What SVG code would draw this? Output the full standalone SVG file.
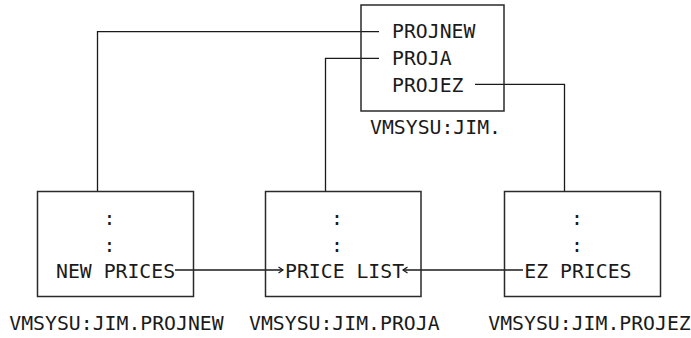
<svg xmlns="http://www.w3.org/2000/svg" width="691" height="338" viewBox="0 0 691 338">
<style>
.box{fill:none;stroke:#2a2a2a;stroke-width:1.5}
.ln{fill:none;stroke:#1a1a1a;stroke-width:1.3}
text{font-family:"DejaVu Sans Mono","Liberation Mono",monospace;font-size:19.8px;fill:#1a1a1a}
</style>
<defs>
<marker id="ah" markerWidth="8" markerHeight="8" refX="6" refY="4" orient="auto" markerUnits="userSpaceOnUse">
<path d="M1.5,1 L6,4 L1.5,7" fill="none" stroke="#1a1a1a" stroke-width="1.2"/>
</marker>
</defs>
<rect width="691" height="338" fill="#fff"/>
<g id="connectors">
<polyline class="ln" points="379,31.7 97.5,31.7 97.5,191.5"/>
<polyline class="ln" points="379,58.3 325.5,58.3 325.5,191.5"/>
<polyline class="ln" points="475,84.3 564.5,84.3 564.5,191.5"/>
<line class="ln" x1="175" y1="270" x2="283" y2="270" marker-end="url(#ah)"/>
<line class="ln" x1="523" y1="270" x2="403" y2="270" marker-end="url(#ah)"/>
</g>
<g id="top">
<rect class="box" x="361" y="5" width="143" height="106"/>
<text x="392" y="38.3">PROJNEW</text>
<text x="392" y="65">PROJA</text>
<text x="392" y="91.7">PROJEZ</text>
<text x="370" y="134">VMSYSU:JIM.</text>
</g>
<g id="newprices">
<rect class="box" x="37.5" y="191.5" width="156" height="105"/>
<text x="103.6" y="225">:</text>
<text x="103.6" y="251.7">:</text>
<text x="56" y="278.3">NEW PRICES</text>
<text x="9.3" y="330">VMSYSU:JIM.PROJNEW</text>
</g>
<g id="pricelist">
<rect class="box" x="265.5" y="191.5" width="155.5" height="105"/>
<text x="331" y="225">:</text>
<text x="331" y="251.7">:</text>
<text x="285" y="278.3">PRICE LIST</text>
<text x="249" y="330">VMSYSU:JIM.PROJA</text>
</g>
<g id="ezprices">
<rect class="box" x="504.5" y="191.5" width="156" height="105"/>
<text x="571" y="225">:</text>
<text x="571" y="251.7">:</text>
<text x="524.3" y="278.3">EZ PRICES</text>
<text x="488.3" y="330">VMSYSU:JIM.PROJEZ</text>
</g>
</svg>
